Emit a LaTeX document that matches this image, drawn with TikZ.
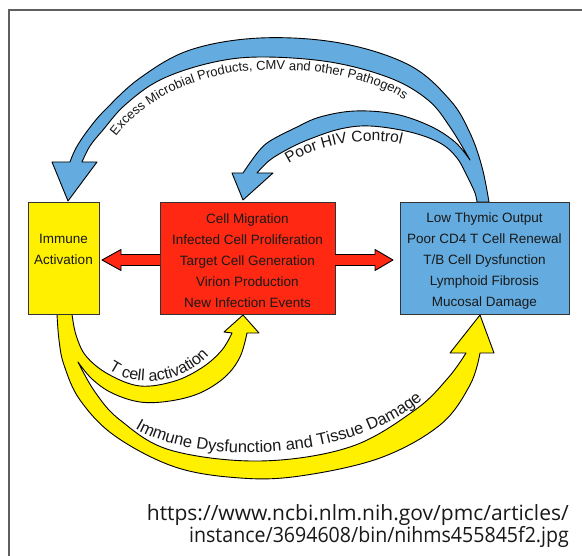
\documentclass[tikz,border=0pt]{standalone}
\usepackage{fontspec}
\setmainfont{Liberation Sans}
\newfontfamily\urlfont{Open Sans}
\usetikzlibrary{decorations.text}
\definecolor{ylw}{RGB}{255,240,0}
\definecolor{rd}{RGB}{255,40,18}
\definecolor{bl}{RGB}{100,172,224}
\definecolor{frm}{RGB}{95,95,95}
\definecolor{txt}{RGB}{25,25,25}
\begin{document}
\begin{tikzpicture}[x=1pt,y=-1pt,
  box/.style={draw=black!80, line width=0.8pt, inner sep=0pt},
  boxtext/.style={align=center, font=\fontsize{13.5}{21}\selectfont, text=txt},
  band/.style={draw=black, line width=0.9pt, line join=round},
  urltext/.style={anchor=base east, font=\urlfont\fontsize{21}{23}\selectfont, text=txt, inner sep=0pt}
]
\useasboundingbox (0,0) rectangle (582,556);
\fill[white] (0,0) rectangle (582,556);
\draw[frm, line width=2.2pt] (9,556) -- (9,10) -- (582,10);

% blue feedback arrows
\filldraw[fill=bl, band]
  plot[smooth, tension=0.6] coordinates {(489,202) (482,167) (470,133) (450,100) (409,65) (340,43) (260,38) (190,50) (140,78) (105,110) (88,130) (76,148) (70,162)}
  -- (52,162) -- (68,201) -- (97,162) -- (82,162)
  -- plot[smooth, tension=0.6] coordinates {(82,162) (90,146) (103,130) (125,105) (160,80) (210,63) (260,57) (330,62) (390,78) (428,100) (450,127) (470,160)}
  -- plot[smooth, tension=0.6] coordinates {(470,160) (455,142) (430,126) (395,114) (355,111) (320,117) (295,128) (270,141) (258,152) (243,173)}
  -- (232,173) -- (243,200) -- (273,173) -- (257,173)
  -- plot[smooth, tension=0.6] coordinates {(257,173) (270,160) (290,148) (310,139) (340,129) (370,126) (410,132) (440,143) (457,158) (468,178) (475,193) (477,202)}
  -- cycle;

% yellow arrows
\filldraw[fill=ylw, band]
  plot[smooth, tension=0.6] coordinates {(72,314) (76,335) (86,356) (108,374) (140,386) (175,381) (203,367) (222,350) (232,333)}
  -- (224,332) -- (243,315) -- (259,333) -- (247,333)
  -- plot[smooth, tension=0.6] coordinates {(247,333) (240,357) (225,377) (200,393) (170,401) (140,402) (112,393) (92,379) (78,362)}
  -- plot[smooth, tension=0.6] coordinates {(78,362) (95,392) (120,420) (170,450) (260,461) (350,447) (415,410) (448,378) (466,353)}
  -- (450,353) -- (480,315) -- (494,353) -- (480,353)
  -- plot[smooth, tension=0.6] coordinates {(480,353) (470,385) (440,425) (380,458) (300,476) (240,478) (175,467) (115,436) (80,400) (64,365) (59,340) (57,314)}
  -- cycle;

% boxes
\node[box, fill=ylw, minimum width=71pt, minimum height=112pt] (imm) at (63.5,258) {};
\node[boxtext] (immtxt) at (63.5,249.5) {Immune\\Activation};
\node[box, fill=rd, minimum width=175pt, minimum height=112pt] (red) at (247.5,258) {};
\node[boxtext] (redtxt) at (247.5,261)
  {Cell Migration\\Infected Cell Proliferation\\Target Cell Generation\\Virion Production\\New Infection Events};
\node[box, fill=bl, minimum width=169pt, minimum height=112pt] (blu) at (484.5,258) {};
\node[boxtext] (blutxt) at (484.5,261)
  {Low Thymic Output\\Poor CD4 T Cell Renewal\\T/B Cell Dysfunction\\Lymphoid Fibrosis\\Mucosal Damage};

% red arrows
\filldraw[fill=rd, band] (160,254.5) -- (121,254.5) -- (121,249.5) -- (102,260) -- (121,270.5) -- (121,265.5) -- (160,265.5);
\filldraw[fill=rd, band] (335,254.5) -- (375,254.5) -- (375,249.5) -- (393,260) -- (375,270.5) -- (375,265.5) -- (335,265.5);

% curved labels
\path[decorate, decoration={text along path, text align=center,
  text={|\fontsize{13}{13}\selectfont\color{txt}|Excess Microbial Products, CMV and other Pathogens}}]
  (112,142) .. controls (140,100) and (200,72) .. (260,70) .. controls (320,68) and (380,80) .. (410,104);
\path[decorate, decoration={text along path, text align=center,
  text={|\fontsize{15.5}{15.5}\selectfont\color{txt}|Poor HIV Control}}]
  (279,171) .. controls (309,145) and (375,132) .. (413,148);
\path[decorate, decoration={text along path, text align=center,
  text={|\fontsize{16}{16}\selectfont\color{txt}|T cell activation}}]
  (100,362) .. controls (125,390) and (185,390) .. (216,346);
\path[decorate, decoration={text along path, text align=center,
  text={|\fontsize{16.5}{16.5}\selectfont\color{txt}|Immune Dysfunction and Tissue Damage}}]
  (120,417) .. controls (170,468) and (362,470) .. (436,386);

% source
\node[urltext] (url1) at (569,521) {https://www.ncbi.nlm.nih.gov/pmc/articles/};
\node[urltext] (url2) at (569,543) {\scalebox{0.932}[1]{instance/3694608/bin/nihms455845f2.jpg}};
\end{tikzpicture}
\end{document}
